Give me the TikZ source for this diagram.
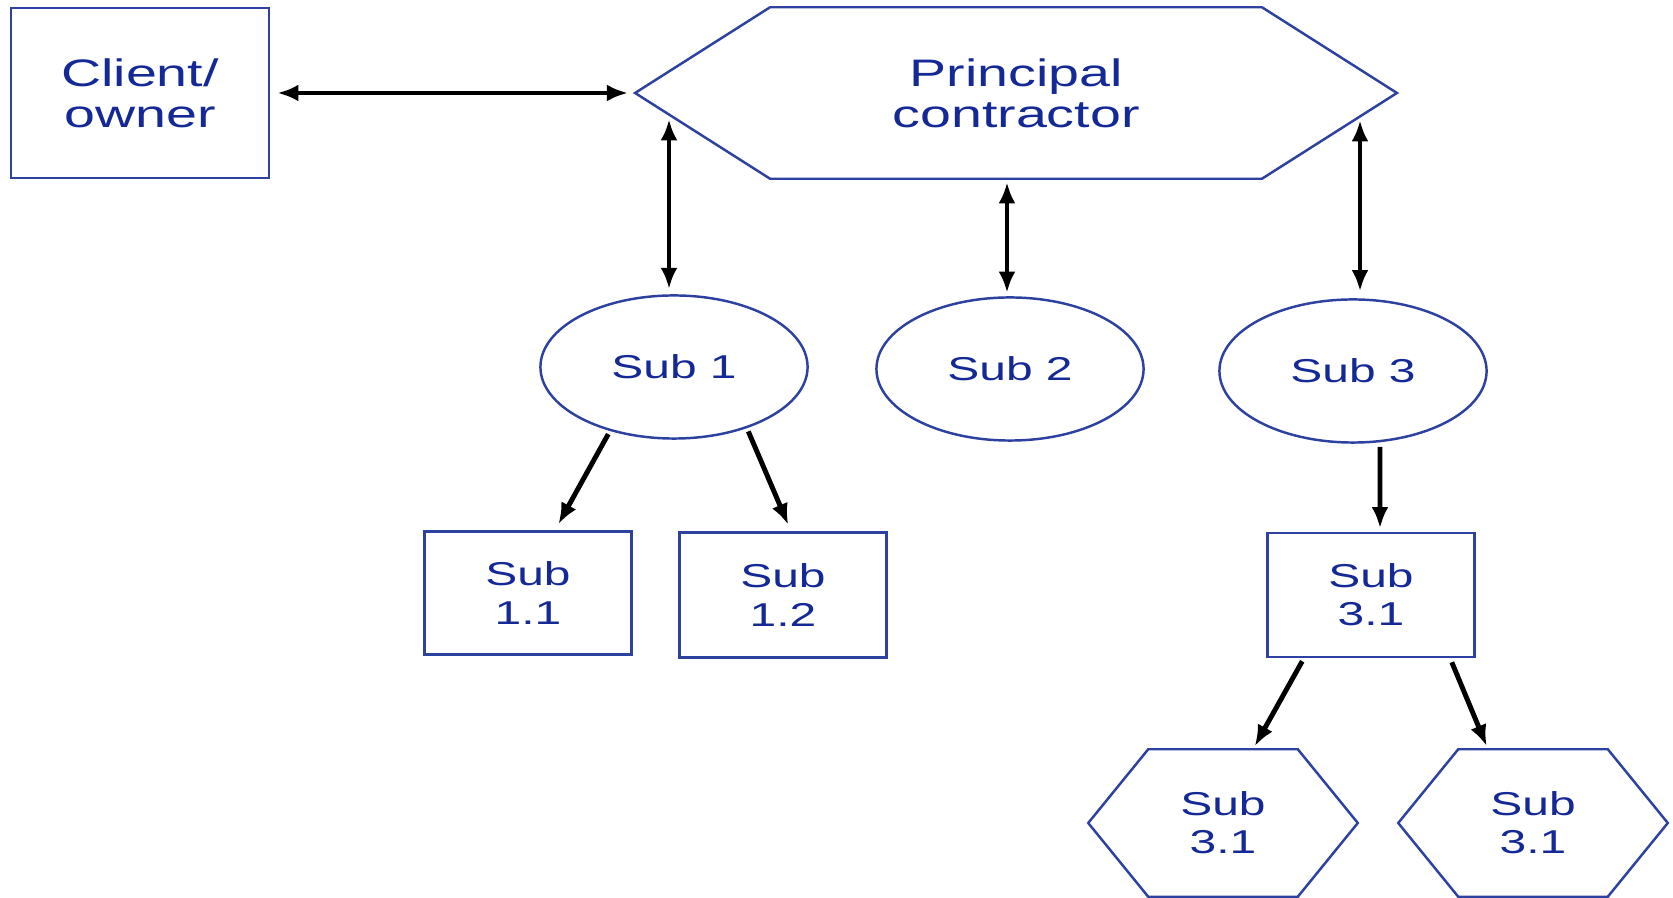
\documentclass[tikz,border=0pt]{standalone}
\usepackage{fontspec}
\setmainfont{Liberation Sans}[FakeStretch=1.45]
\usepackage{tikz}
\usetikzlibrary{arrows.meta,shapes.geometric,positioning}
\definecolor{txtblue}{RGB}{20,40,150}
\definecolor{edgeblue}{RGB}{45,65,160}
\tikzset{
	big/.style={text=txtblue, align=center, inner sep=0pt, font=\fontsize{10.9}{11.6}\selectfont},
	small/.style={text=txtblue, align=center, inner sep=0pt, font=\fontsize{9.4}{10.9}\selectfont},
	edge/.style={draw=edgeblue, line width=0.7pt},
	arr/.style={-{Latex[length=6pt,width=4.8pt]}, line width=1.4pt},
	dbl/.style={{Latex[length=6pt,width=4.8pt]}-{Latex[length=6pt,width=4.8pt]}, line width=1.4pt},
}

\begin{document}
\begin{tikzpicture}[x=0.01cm,y=-0.01cm]
		\useasboundingbox (0,0) rectangle (1673,898);
		\node[big,edge,minimum width=2.58cm,minimum height=1.70cm] (client) at (140,93) {Client/\\owner};
		\node[big,minimum width=7.60cm,minimum height=1.70cm] (pc) at (1016,93) {Principal\\contractor};
		\node[small,edge,ellipse,minimum width=2.67cm,minimum height=1.43cm] (sub1) at (674,367) {Sub 1};
		\node[small,edge,ellipse,minimum width=2.67cm,minimum height=1.43cm] (sub2) at (1010,369) {Sub 2};
		\node[small,edge,ellipse,minimum width=2.67cm,minimum height=1.43cm] (sub3) at (1353,371) {Sub 3};
		\node[small,edge,minimum width=2.07cm,minimum height=1.23cm] (sub11) at (528,593) {Sub\\1.1};
		\node[small,edge,minimum width=2.07cm,minimum height=1.25cm] (sub12) at (783,595) {Sub\\1.2};
		\node[small,edge,minimum width=2.07cm,minimum height=1.24cm] (sub31) at (1371,595) {Sub\\3.1};
		\node[small,minimum width=2.68cm,minimum height=1.46cm] (h1) at (1223,823) {Sub\\3.1};
		\node[small,minimum width=2.68cm,minimum height=1.46cm] (h2) at (1533,823) {Sub\\3.1};
		
		% hexagon outlines
		\foreach \n/\d in {pc/135,h1/60,h2/60}
			\draw[edge] (\n.west) -- ([xshift=\d*0.01cm]\n.north west) -- ([xshift=-\d*0.01cm]\n.north east) -- (\n.east) -- ([xshift=-\d*0.01cm]\n.south east) -- ([xshift=\d*0.01cm]\n.south west) -- cycle;
		
		\coordinate (pcl) at (669,114);
		\coordinate (pcr) at (1360,115);
		\draw[dbl, shorten <=2pt, shorten >=2pt] (client.east) -- (pc.west);
		\draw[dbl, shorten <=1.5pt, shorten >=1.5pt] (pcl) -- (pcl |- sub1.north);
		\draw[dbl, shorten <=1pt, shorten >=1pt] ([xshift=-0.03cm]sub2.north |- pc.south) -- ([xshift=-0.03cm]sub2.north);
		\draw[dbl, shorten <=1.5pt, shorten >=2pt] (pcr) -- (pcr |- sub3.north);
		
		\draw[arr, shorten <=1pt, shorten >=2pt] (sub1.225) -- ([xshift=0.27cm]sub11.north);
		\draw[arr, shorten <=1pt, shorten >=2pt] (sub1.320) -- ([xshift=0.08cm]sub12.north);
		\draw[arr, shorten >=1pt] ([shift={(27,3)}]sub3.south) -- ([xshift=0.09cm]sub31.north);
		\draw[arr, shorten >=1pt] ([shift={(36,3)}]sub31.south west) -- ([xshift=0.3cm]h1.north);
		\draw[arr, shorten >=1pt] ([shift={(-24,4)}]sub31.south east) -- ([xshift=-0.45cm]h2.north);
	\end{tikzpicture}
\end{document}
